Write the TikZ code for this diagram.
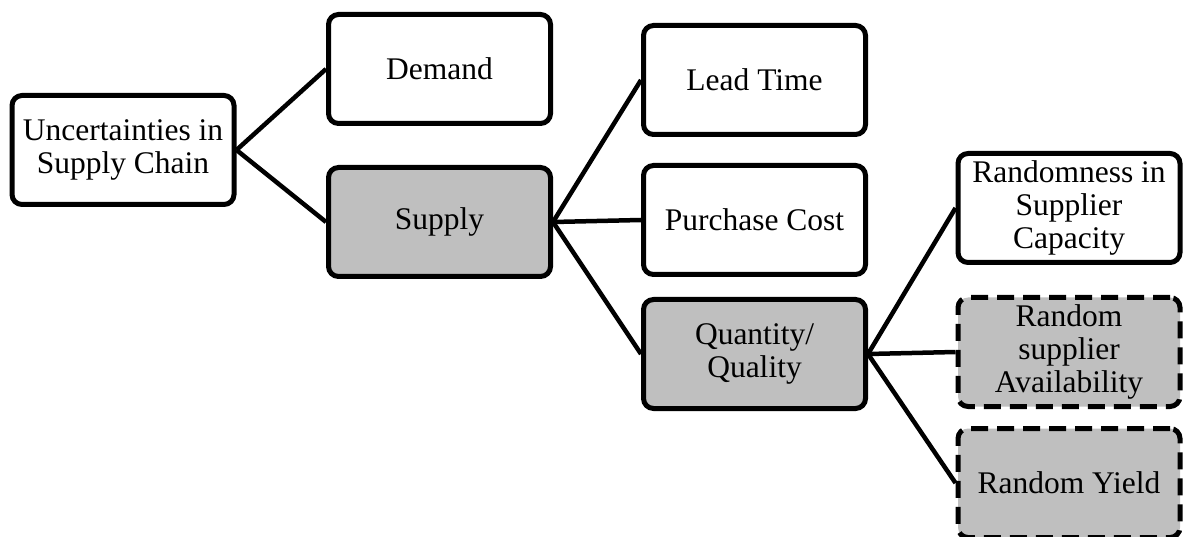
\documentclass[tikz,border=0pt]{standalone}
\usepackage{fontspec}
\setmainfont{Liberation Serif}
\definecolor{boxgray}{RGB}{191,191,191}

\begin{document}
\begin{tikzpicture}[
    x=1pt, y=-1pt,
    box/.style={draw, line width=5pt, rounded corners=10pt, fill=white,
        minimum width=222pt, minimum height=109pt, align=center,
        inner sep=2pt, font=\fontsize{31.5}{33}\selectfont},
    graybox/.style={box, fill=boxgray},
    dashbox/.style={graybox, dash pattern=on 17pt off 9pt},
    link/.style={line width=4.5pt}
]

    % Frame
    \useasboundingbox (0,0) rectangle (1183,537);

    % Boxes
    \node[box]      (unc)   at (123,150)    {Uncertainties in\\Supply Chain};
    \node[box]      (dem)   at (439.5,69)   {Demand};
    \node[graybox]  (sup)   at (439.5,222)  {Supply};
    \node[box]      (lead)  at (754.5,80)   {Lead Time};
    \node[box]      (cost)  at (754.5,220)  {Purchase Cost};
    \node[graybox]  (qty)   at (754.5,354)  {Quantity/\\Quality};
    \node[box]      (cap)   at (1069,208)   {Randomness in\\Supplier\\Capacity};
    \node[dashbox]  (avail) at (1069,352)   {Random\\supplier\\Availability};
    \node[dashbox]  (yield) at (1069,483)   {Random Yield};

    % Links
    \draw[link] (unc.east) -- (dem.west);
    \draw[link] (unc.east) -- (sup.west);
    \draw[link] (sup.east) -- (lead.west);
    \draw[link] (sup.east) -- (cost.west);
    \draw[link] (sup.east) -- (qty.west);
    \draw[link] (qty.east) -- (cap.west);
    \draw[link] (qty.east) -- (avail.west);
    \draw[link] (qty.east) -- (yield.west);

\end{tikzpicture}
\end{document}
